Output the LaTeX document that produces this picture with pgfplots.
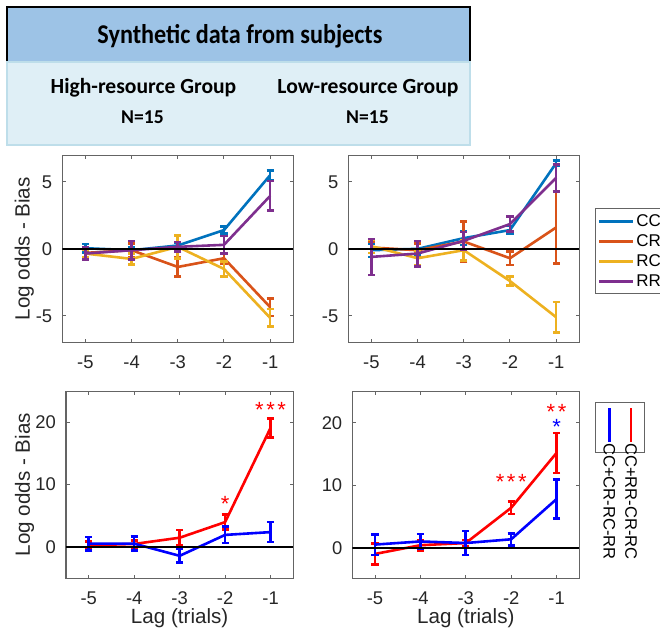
\documentclass[border=0pt]{standalone}
\usepackage{fontspec}
\setmainfont{Liberation Sans}
\newfontfamily\hdr{Carlito}
\usepackage{graphicx}
\usepackage{pgfplots}
\pgfplotsset{compat=1.18}

\definecolor{mCC}{rgb}{0,0.447,0.741}
\definecolor{mCR}{rgb}{0.85,0.325,0.098}
\definecolor{mRC}{rgb}{0.929,0.694,0.125}
\definecolor{mRR}{rgb}{0.494,0.184,0.556}
\definecolor{hdark}{RGB}{157,195,230}
\definecolor{hlight}{RGB}{223,239,246}
\definecolor{hborder}{RGB}{190,222,234}
\definecolor{axgray}{RGB}{100,100,100}

\pgfplotsset{
  panel/.style={
    scale only axis,
    xmin=-5.5, xmax=-0.5, xtick={-5,-4,-3,-2,-1},
    tick align=inside, xtick pos=both, ytick pos=both,
    major tick length=1.8pt,
    axis line style={axgray, line width=0.5pt},
    tick style={axgray, line width=0.5pt},
    /pgf/number format/assume math mode=true,
    ticklabel style={font=\fontsize{9.2}{10}\selectfont, text=black!85},
    xticklabel style={yshift=-3pt},
    yticklabel style={xshift=-1.5pt},
    label style={font=\fontsize{10.3}{12}\selectfont, text=black!85},
    every axis plot/.append style={line width=1.3pt, mark=none},
  },
  eb/.style={error bars/.cd, y dir=both, y explicit,
    error bar style={line width=1.3pt},
    error mark options={rotate=90, line width=1.3pt, mark size=1.8pt}},
}
\tikzset{sigstar/.style={font=\fontsize{11}{11}\selectfont, anchor=center, yshift=-2pt}}
\newcommand{\stars}[1]{\ifcase#1\or*\or*\hspace{1.3pt}*\or*\hspace{1.3pt}*\hspace{1.3pt}*\fi}
% legend entry: key line on top, text running downwards below it
\newcommand{\vkey}[2]{\vbox{\offinterlineskip\halign{\hfil##\hfil\cr
  \textcolor{#1}{\rule{1.3pt}{17pt}}\cr\noalign{\kern0.5pt}
  \rotatebox{-90}{#2}\cr}}}

\begin{document}
\begin{tikzpicture}
\useasboundingbox (0,0) rectangle (330pt,-316.5pt);

% header
\fill[hdark] (3.35pt,-3.65pt) rectangle (235pt,-30.85pt);
\draw[black, line width=1pt] (3.35pt,-30.85pt) -- (3.35pt,-3.65pt) -- (235pt,-3.65pt) -- (235pt,-30.85pt);
\filldraw[fill=hlight, draw=hborder, line width=1pt] (3.35pt,-30.85pt) rectangle (235pt,-72.5pt);
\node[font=\hdr\bfseries\fontsize{12.1}{14}\selectfont] at (120pt,-18.35pt) {\scalebox{1}[1.12]{Synthetic data from subjects}};
\node[font=\hdr\bfseries\fontsize{10.8}{13}\selectfont] at (71.75pt,-44pt) {High-resource Group};
\node[font=\hdr\bfseries\fontsize{10.8}{13}\selectfont] at (184pt,-44pt) {Low-resource Group};
\node[font=\hdr\bfseries\fontsize{9.8}{12}\selectfont] at (71.25pt,-58.35pt) {N=15};
\node[font=\hdr\bfseries\fontsize{9.8}{12}\selectfont] at (183.75pt,-58.35pt) {N=15};

% top left
\begin{axis}[panel, at={(31.15pt,-77.5pt)}, anchor=north west,
  width=115.5pt, height=93.85pt,
  ymin=-7, ymax=7, ytick={-5,0,5},
  ylabel={Log odds - Bias},
  ylabel style={at={(axis description cs:-0.164,0.5)}, anchor=center}]
\addplot[mCC, eb] coordinates {(-5,0.05) +- (0,0.3) (-4,-0.1) +- (0,0.25) (-3,0.25) +- (0,0.2) (-2,1.4) +- (0,0.25) (-1,5.5) +- (0,0.35)};
\addplot[mCR, eb] coordinates {(-5,-0.3) +- (0,0.3) (-4,-0.1) +- (0,0.5) (-3,-1.35) +- (0,0.7) (-2,-0.7) +- (0,0.4) (-1,-4.35) +- (0,0.65)};
\addplot[mRC, eb] coordinates {(-5,-0.35) +- (0,0.3) (-4,-0.75) +- (0,0.4) (-3,0.15) +- (0,0.85) (-2,-1.5) +- (0,0.55) (-1,-5.15) +- (0,0.65)};
\addplot[mRR, eb] coordinates {(-5,-0.35) +- (0,0.45) (-4,-0.1) +- (0,0.7) (-3,0.15) +- (0,0.35) (-2,0.3) +- (0,0.65) (-1,3.95) +- (0,1.1)};
\addplot[black, line width=1pt, forget plot] coordinates {(-5.5,0) (-0.5,0)};
\end{axis}

% top right
\begin{axis}[panel, at={(174.15pt,-77.5pt)}, anchor=north west,
  width=115.5pt, height=93.85pt,
  ymin=-7, ymax=7, ytick={-5,0,5},
  legend style={at={(1.068,0.716)}, anchor=north west, draw=axgray, line width=0.5pt,
    font=\fontsize{8.5}{10}\selectfont, inner sep=1.25pt,
    nodes={inner ysep=1pt, inner xsep=0.8pt, text height=6.5pt, text depth=1.5pt}},
  legend cell align=left]
\addplot[mCC, eb] coordinates {(-5,-0.1) +- (0,0.5) (-4,0.0) +- (0,0.4) (-3,0.8) +- (0,0.5) (-2,1.4) +- (0,0.3) (-1,6.4) +- (0,0.2)};
\addlegendentry{CC}
\addplot[mCR, eb] coordinates {(-5,0.1) +- (0,0.4) (-4,-0.1) +- (0,0.5) (-3,0.55) +- (0,1.5) (-2,-0.7) +- (0,0.5) (-1,1.6) +- (0,2.7)};
\addlegendentry{CR}
\addplot[mRC, eb] coordinates {(-5,0.2) +- (0,0.5) (-4,-0.7) +- (0,0.5) (-3,-0.1) +- (0,0.75) (-2,-2.4) +- (0,0.35) (-1,-5.1) +- (0,1.15)};
\addlegendentry{RC}
\addplot[mRR, eb] coordinates {(-5,-0.6) +- (0,1.35) (-4,-0.35) +- (0,0.95) (-3,0.6) +- (0,0.65) (-2,1.85) +- (0,0.55) (-1,5.3) +- (0,1.0)};
\addlegendentry{RR}
\addplot[black, line width=1pt, forget plot] coordinates {(-5.5,0) (-0.5,0)};
\end{axis}

% bottom left
\begin{axis}[panel, at={(33pt,-195.5pt)}, anchor=north west,
  width=113.65pt, height=93.65pt,
  ymin=-5, ymax=25, ytick={0,10,20},
  ylabel={Log odds - Bias},
  ylabel style={at={(axis description cs:-0.1826,0.5)}, anchor=center},
  xlabel={Lag (trials)},
  xlabel style={at={(axis description cs:0.5,-0.212)}, anchor=center}]
\addplot[red, eb] coordinates {(-5,0.3) +- (0,0.6) (-4,0.5) +- (0,0.6) (-3,1.5) +- (0,1.25) (-2,4.0) +- (0,1.2) (-1,19.1) +- (0,1.5)};
\addplot[blue, eb] coordinates {(-5,0.55) +- (0,1.05) (-4,0.55) +- (0,1.1) (-3,-1.4) +- (0,1.1) (-2,1.95) +- (0,1.3) (-1,2.4) +- (0,1.6)};
\addplot[black, line width=1pt, forget plot] coordinates {(-5.5,0) (-0.5,0)};
\node[sigstar, red] at (axis cs:-1,22.6) {\stars{3}};
\node[sigstar, red] at (axis cs:-2,7.5) {\stars{1}};
\end{axis}

% bottom right
\begin{axis}[panel, at={(176.15pt,-195.85pt)}, anchor=north west,
  width=113.5pt, height=93.6pt,
  ymin=-5, ymax=25, ytick={0,10,20},
  xlabel={Lag (trials)},
  xlabel style={at={(axis description cs:0.5,-0.21)}, anchor=center},
  legend image code/.code={},
  legend columns=2, reverse legend,
  legend style={at={(1.069,0.947)}, anchor=north west,
    draw=axgray, line width=0.5pt,
    font=\fontsize{8.3}{10}\selectfont, inner sep=1.5pt,
    nodes={inner xsep=2.5pt, inner ysep=1.5pt},
    /tikz/every even column/.append style={column sep=0pt},
    /tikz/every odd column/.append style={column sep=0pt}}]
\addplot[red, eb] coordinates {(-5,-1.0) +- (0,1.65) (-4,0.4) +- (0,0.8) (-3,0.75) +- (0,0.5) (-2,6.4) +- (0,1.0) (-1,15.2) +- (0,3.2)};
\addlegendentry{\vkey{red}{CC+RR-CR-RC}}
\addplot[blue, eb] coordinates {(-5,0.5) +- (0,1.65) (-4,1.0) +- (0,1.2) (-3,0.75) +- (0,1.9) (-2,1.35) +- (0,0.95) (-1,7.8) +- (0,3.1)};
\addlegendentry{\vkey{blue}{CC+CR-RC-RR}}
\addplot[black, line width=1pt, forget plot] coordinates {(-5.5,0) (-0.5,0)};
\node[sigstar, red] at (axis cs:-2,11.2) {\stars{3}};
\node[sigstar, red] at (axis cs:-1,22.4) {\stars{2}};
\node[sigstar, blue] at (axis cs:-1,20.0) {\stars{1}};
\end{axis}
\end{tikzpicture}
\end{document}
